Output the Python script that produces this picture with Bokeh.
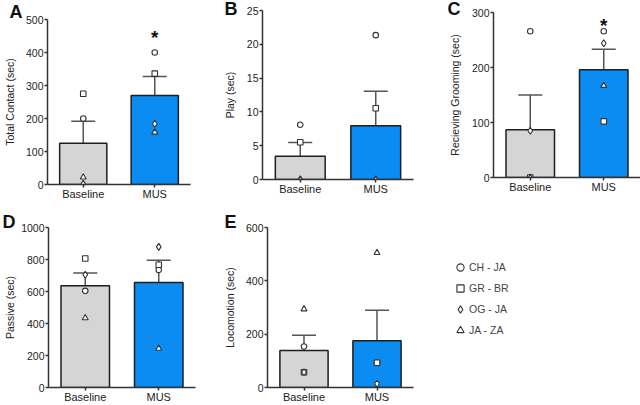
import numpy as np
from bokeh.plotting import figure
from bokeh.models import (ColumnDataSource, Range1d, FixedTicker, Legend,
                          LegendItem, Whisker, TeeHead, Title)
from bokeh.layouts import row, column
from bokeh.embed import file_html
from bokeh.resources import INLINE
from bokeh.core.properties import value

# ---------------- data ----------------
categories = ["Baseline", "MUS"]
bar_colors = ["#d5d5d5", "#0b8cf2"]
subjects = ["CH - JA", "GR - BR", "OG - JA", "JA - ZA"]
subject_markers = ["circle", "square", "diamond", "triangle"]

# A: Total Contact
contact_mean = [125, 270]
contact_sem_top = [192, 327]
contact_ch = [200, 400]
contact_gr = [275, 336]
contact_og = [2, 184]
contact_ja = [22, 158]
contact_ticks = [0, 100, 200, 300, 400, 500]
contact_star = 445

# B: Play
play_mean = [3.45, 7.95]
play_sem_top = [5.47, 13.06]
play_ch = [8.1, 21.35]
play_gr = [5.5, 10.55]
play_og = [0, 0]
play_ja = [0, 0]
play_ticks = [0, 5, 10, 15, 20, 25]

# C: Recieving Grooming
groom_mean = [87, 196]
groom_sem_top = [150, 233]
groom_ch = [266, 266]
groom_gr = [0, 102]
groom_og = [85, 244]
groom_ja = [0, 167]
groom_ticks = [0, 100, 200, 300]
groom_star = 277

# D: Passive
passive_mean = [636, 656]
passive_sem_top = [715, 796]
passive_ch = [604, 735]
passive_gr = [806, 767]
passive_og = [705, 879]
passive_ja = [434, 244]
passive_ticks = [0, 200, 400, 600, 800, 1000]

# E: Locomotion
loco_mean = [139, 175]
loco_sem_top = [196, 290]
loco_ch = [154, 93]
loco_gr = [57, 93]
loco_og = [57, 14]
loco_ja = [294, 505]
loco_ticks = [0, 200, 400, 600]

FONT = "Liberation Sans"
AX = "#333333"
marker_sizes = {"circle": 5.5, "square": 5.5, "diamond": 7, "triangle": 6}


def panel(letter, ylabel, means, tops, pts, yticks, width, height,
          bl, br, bt, bb, label_standoff, l_offset, l_standoff, star=None):
    p = figure(width=width, height=height,
               x_range=Range1d(0.5, 2.5), y_range=Range1d(0, yticks[-1]),
               output_backend="svg", toolbar_location=None,
               min_border_left=bl, min_border_right=br,
               min_border_top=bt, min_border_bottom=bb)
    p.outline_line_color = None
    p.grid.visible = False
    p.background_fill_color = "white"
    p.border_fill_color = "white"

    p.title = Title(text=letter, align="left", vertical_align="bottom",
                    offset=l_offset, standoff=l_standoff, text_font=FONT,
                    text_font_size="18px", text_font_style="bold",
                    text_color="#111111")

    xs = [1, 2]
    src = ColumnDataSource(dict(x=xs, mean=means, top=tops,
                                color=bar_colors, cat=categories))
    p.add_layout(Whisker(source=src, base="x", lower="mean", upper="top",
                         dimension="height", line_color="#555555", line_width=1.5,
                         lower_head=None,
                         upper_head=TeeHead(size=24, line_color="#555555",
                                            line_width=1.5)))
    p.vbar(x="x", top="mean", width=0.66, source=src, fill_color="color",
           line_color="#1e1e1e", line_width=1.5)
    for vals, m in zip(pts, subject_markers):
        p.scatter(x=xs, y=vals, marker=m, size=marker_sizes[m],
                  fill_color="white", line_color="#333333", line_width=1.1)
    if star is not None:
        p.text(x=[2], y=[star], text=["*"], text_font=value(FONT),
               text_font_style="bold", text_font_size="19px",
               text_align="center", text_baseline="middle", text_color="#111111")

    for ax in (p.xaxis, p.yaxis):
        ax.axis_line_color = AX
        ax.axis_line_width = 1.5
        ax.major_tick_line_color = AX
        ax.major_tick_line_width = 1.5
        ax.major_tick_in = 0
        ax.major_tick_out = 3
        ax.minor_tick_in = 0
        ax.minor_tick_out = 0
        ax.major_label_text_font = FONT
        ax.major_label_text_color = "#222222"
    p.yaxis.major_label_standoff = 1
    p.xaxis.major_label_standoff = 0
    p.yaxis.ticker = FixedTicker(ticks=yticks)
    p.yaxis.major_label_text_font_size = "10.5px"
    p.yaxis.axis_label = ylabel
    p.yaxis.axis_label_text_font = FONT
    p.yaxis.axis_label_text_font_style = "normal"
    p.yaxis.axis_label_text_font_size = "10.5px"
    p.yaxis.axis_label_text_color = "#222222"
    p.yaxis.axis_label_standoff = int(label_standoff)
    p.xaxis.ticker = FixedTicker(ticks=xs)
    p.xaxis.major_label_overrides = {1: categories[0], 2: categories[1]}
    p.xaxis.major_label_text_font_size = "11px"
    return p


pa = panel("A", "Total Contact (sec)", contact_mean, contact_sem_top,
           [contact_ch, contact_gr, contact_og, contact_ja], contact_ticks,
           212, 202, 40, 22, 19, 18, 7, -38, -4, star=contact_star)
pb = panel("B", "Play (sec)", play_mean, play_sem_top,
           [play_ch, play_gr, play_og, play_ja], play_ticks,
           211, 202, 50, 10, 10, 23, 8, -38, -17.6)
pc = panel("C", "Recieving Grooming (sec)", groom_mean, groom_sem_top,
           [groom_ch, groom_gr, groom_og, groom_ja], groom_ticks,
           217, 202, 70, 0, 12, 25, 8, -46, -13, star=groom_star)
pd = panel("D", "Passive (sec)", passive_mean, passive_sem_top,
           [passive_ch, passive_gr, passive_og, passive_ja], passive_ticks,
           212, 203, 48, 17, 25, 17, 2, -46, -9.6)
pe = panel("E", "Locomotion (sec)", loco_mean, loco_sem_top,
           [loco_ch, loco_gr, loco_og, loco_ja], loco_ticks,
           218, 203, 55, 17, 25, 17, 7, -43, -9.6)

# legend panel
pl = figure(width=210, height=203, x_range=Range1d(0, 1), y_range=Range1d(0, 1),
            output_backend="svg", toolbar_location=None, min_border=0,
            x_axis_type=None, y_axis_type=None)
pl.outline_line_color = None
pl.grid.visible = False
items = []
for s, m in zip(subjects, subject_markers):
    r = pl.scatter(x=np.array([np.nan]), y=np.array([np.nan]), marker=m, size=7,
                   fill_color="white", line_color="#333333", line_width=1.1)
    items.append(LegendItem(label=s, renderers=[r]))
legend = Legend(items=items, location=(21, 66), orientation="vertical",
                glyph_width=18, glyph_height=18, label_height=18,
                label_standoff=0, spacing=3, padding=0, margin=0,
                border_line_color=None, background_fill_alpha=0,
                label_text_font=FONT, label_text_font_size="10.5px",
                label_text_color="#444444")
pl.add_layout(legend)

layout = column(row(column(pa), column(pb), column(pc)),
                row(column(pd), column(pe), column(pl)))
open("out.html", "w").write(file_html(layout, INLINE))
